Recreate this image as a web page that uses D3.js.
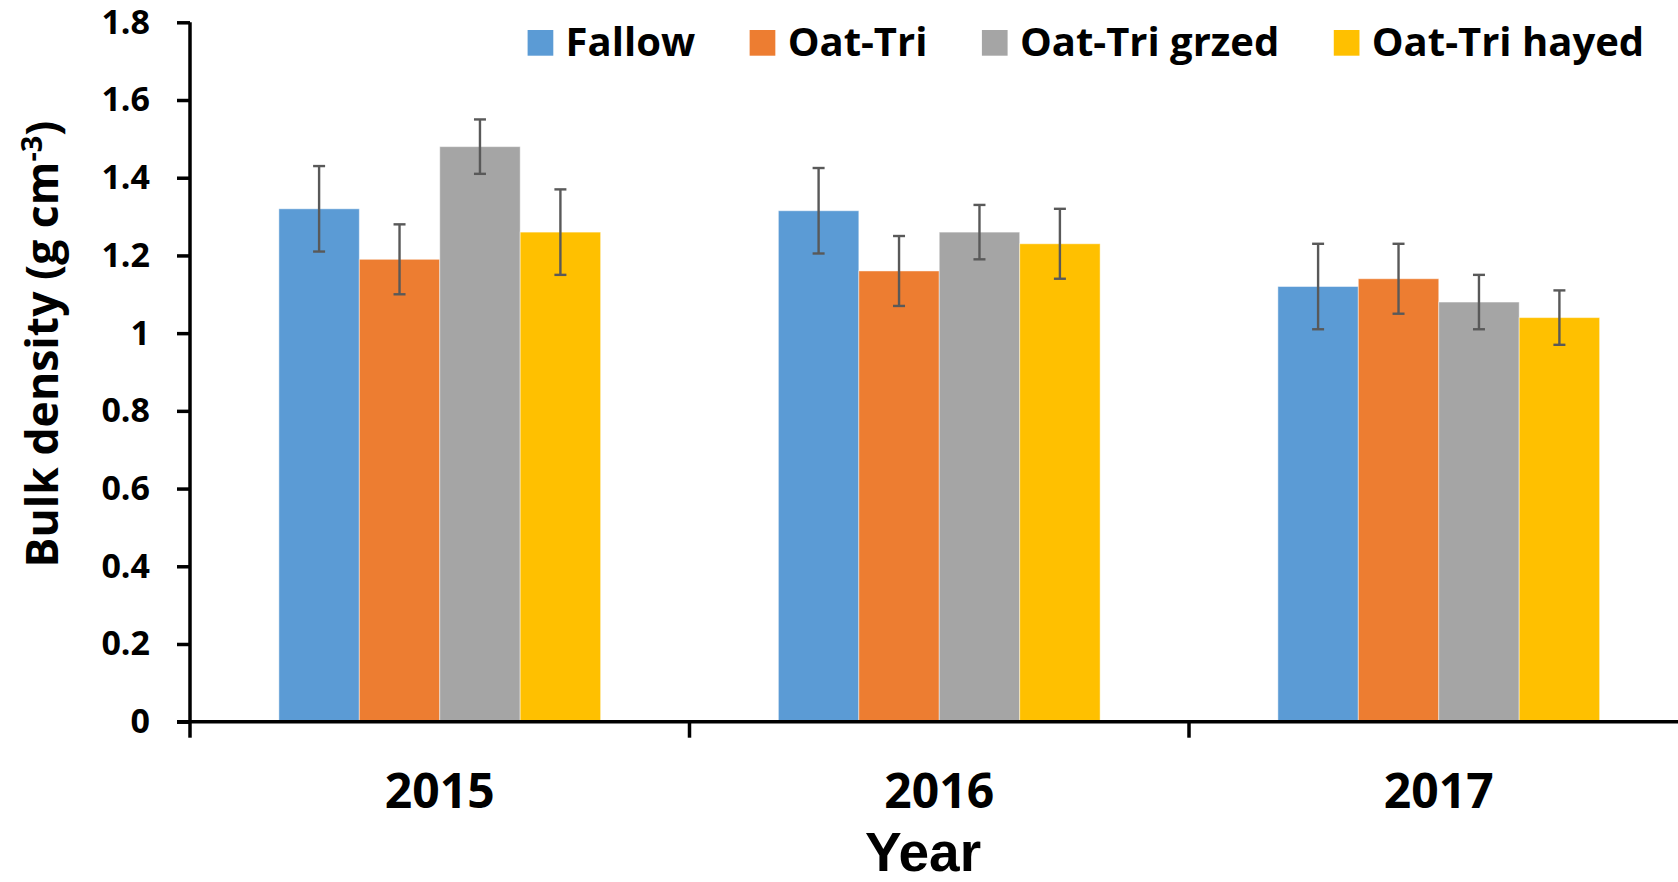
<!DOCTYPE html>
<html>
<head>
<meta charset="utf-8">
<script src="https://cdn.jsdelivr.net/npm/d3@7"></script>
<style>
  body { margin: 0; background: #fff; overflow: hidden; }
  svg { display: block; font-family: "Open Sans", sans-serif; font-weight: 700; }
  .tick text { fill: #000; }
</style>
</head>
<body>
<svg id="svg1" width="1678" height="882"></svg>
<script>
// data
const years = ['2015', '2016', '2017'];
const series = ['Fallow', 'Oat-Tri', 'Oat-Tri grzed', 'Oat-Tri hayed'];
const colors = ['#5B9BD5', '#ED7D31', '#A5A5A5', '#FFC000'];

const fallow = [1.32, 1.315, 1.12];
const oatTri = [1.19, 1.16, 1.14];
const oatTriGrazed = [1.48, 1.26, 1.08];
const oatTriHayed = [1.26, 1.23, 1.04];

const fallowErr = [0.11, 0.11, 0.11];
const oatTriErr = [0.09, 0.09, 0.09];
const oatTriGrazedErr = [0.07, 0.07, 0.07];
const oatTriHayedErr = [0.11, 0.09, 0.07];

const yTicks = [0, 0.2, 0.4, 0.6, 0.8, 1, 1.2, 1.4, 1.6, 1.8];

const svg1 = d3.select('#svg1');
const width1 = +svg1.attr('width');
const height1 = +svg1.attr('height');

const values = [fallow, oatTri, oatTriGrazed, oatTriHayed];
const errs = [fallowErr, oatTriErr, oatTriGrazedErr, oatTriHayedErr];

// flat table: one row per bar
const data = [];
years.forEach((yr, i) => {
  series.forEach((s, j) => {
    data.push({ year: yr, series: s, value: values[j][i], err: errs[j][i] });
  });
});

const render = function(data) {
  const margin = { top: 22.3, left: 190, bottom: 160.3 };
  const innerHeight = height1 - margin.top - margin.bottom;
  const bandSpan = 1498.5; // last category runs past the right edge, like the original

  /* year bands, then series bars inside each band */
  const x0 = d3.scaleBand()
    .domain(years)
    .range([0, bandSpan])
    .paddingInner(0)
    .paddingOuter(0);

  const x1 = d3.scaleBand()
    .domain(series)
    .range([0, x0.bandwidth()])
    .paddingInner(0)
    .paddingOuter(1.105);

  const yScale = d3.scaleLinear()
    .domain([0, 1.8])
    .range([innerHeight, 0]);

  const color = d3.scaleOrdinal().domain(series).range(colors);

  const a = svg1.append('g')
    .attr('transform', `translate(${margin.left}, ${margin.top})`);

  /* bars */
  a.selectAll('rect.bar').data(data)
    .enter().append('rect')
      .attr('class', 'bar')
      .attr('x', d => x0(d.year) + x1(d.series))
      .attr('y', d => yScale(d.value))
      .attr('width', x1.bandwidth())
      .attr('height', d => innerHeight - yScale(d.value))
      .attr('fill', d => color(d.series))
      .attr('stroke', '#fff')
      .attr('stroke-opacity', 0.45)
      .attr('stroke-width', 1);

  /* error bars */
  const eb = a.selectAll('g.err').data(data)
    .enter().append('g')
      .attr('class', 'err')
      .attr('transform', d => `translate(${x0(d.year) + x1(d.series) + x1.bandwidth() / 2}, 0)`)
      .attr('stroke', '#595959')
      .attr('stroke-width', 2.4);

  eb.append('line')
    .attr('y1', d => yScale(d.value + d.err))
    .attr('y2', d => yScale(d.value - d.err));
  eb.append('line')
    .attr('x1', -6).attr('x2', 6)
    .attr('y1', d => yScale(d.value + d.err))
    .attr('y2', d => yScale(d.value + d.err));
  eb.append('line')
    .attr('x1', -6).attr('x2', 6)
    .attr('y1', d => yScale(d.value - d.err))
    .attr('y2', d => yScale(d.value - d.err));

  /* y axis */
  const yAxis = d3.axisLeft(yScale)
    .tickValues(yTicks)
    .tickFormat(d => String(+d.toFixed(1)))
    .tickSize(13)
    .tickSizeOuter(0)
    .tickPadding(27);

  const yAxisA = a.append('g').call(yAxis);
  yAxisA.select('.domain').remove();
  yAxisA.selectAll('.tick line').attr('stroke', '#000').attr('stroke-width', 3.5);
  yAxisA.selectAll('.tick text').attr('font-size', 34).attr('font-family', '"Open Sans", sans-serif').attr('font-weight', 700);

  /* x axis: labels centred in bands, ticks at band edges */
  const xAxis = d3.axisBottom(x0).tickSize(0).tickPadding(52);
  const xAxisA = a.append('g')
    .attr('transform', `translate(0, ${innerHeight})`)
    .call(xAxis);
  xAxisA.select('.domain').remove();
  xAxisA.selectAll('.tick text').attr('font-size', 48).attr('font-family', '"Open Sans", sans-serif').attr('font-weight', 700);

  const edges = years.map(d => x0(d)).concat([x0.range()[1]]);
  xAxisA.selectAll('line.edge').data(edges)
    .enter().append('line')
      .attr('class', 'edge')
      .attr('x1', d => d).attr('x2', d => d)
      .attr('y1', 0).attr('y2', 16)
      .attr('stroke', '#000').attr('stroke-width', 3.5);

  xAxisA.append('line')
    .attr('x1', -13).attr('x2', bandSpan)
    .attr('stroke', '#000').attr('stroke-width', 3.5);

  a.append('line')
    .attr('y1', 0).attr('y2', innerHeight)
    .attr('stroke', '#000').attr('stroke-width', 3.5);

  /* axis titles */
  xAxisA.append('text')
    .attr('x', 733)
    .attr('y', 149)
    .attr('text-anchor', 'middle')
    .attr('fill', '#000')
    .attr('font-size', 55)
    .text('Year');

  const yTitle = svg1.append('text')
    .attr('transform', 'translate(58, 344) rotate(-90)')
    .attr('text-anchor', 'middle')
    .attr('font-size', 44.5)
    .attr('fill', '#000');
  yTitle.append('tspan').text('Bulk density (g cm');
  yTitle.append('tspan').attr('font-size', 29).attr('dy', -16).text('-3');
  yTitle.append('tspan').attr('dy', 16).text(')');

  /* legend, laid out left to right from measured text widths */
  const legend = svg1.append('g').attr('transform', 'translate(527.6, 0)');
  let cursor = 0;
  series.forEach(s => {
    const item = legend.append('g').attr('transform', `translate(${cursor}, 0)`);
    item.append('rect')
      .attr('x', 0).attr('y', 30)
      .attr('width', 25.7).attr('height', 25.7)
      .attr('fill', color(s));
    const t = item.append('text')
      .attr('x', 38)
      .attr('y', 55.6)
      .attr('font-size', 40)
      .attr('fill', '#000')
      .text(s);
    cursor += 38 + t.node().getComputedTextLength() + 54.5;
  });
};

render(data);
</script>
</body>
</html>
